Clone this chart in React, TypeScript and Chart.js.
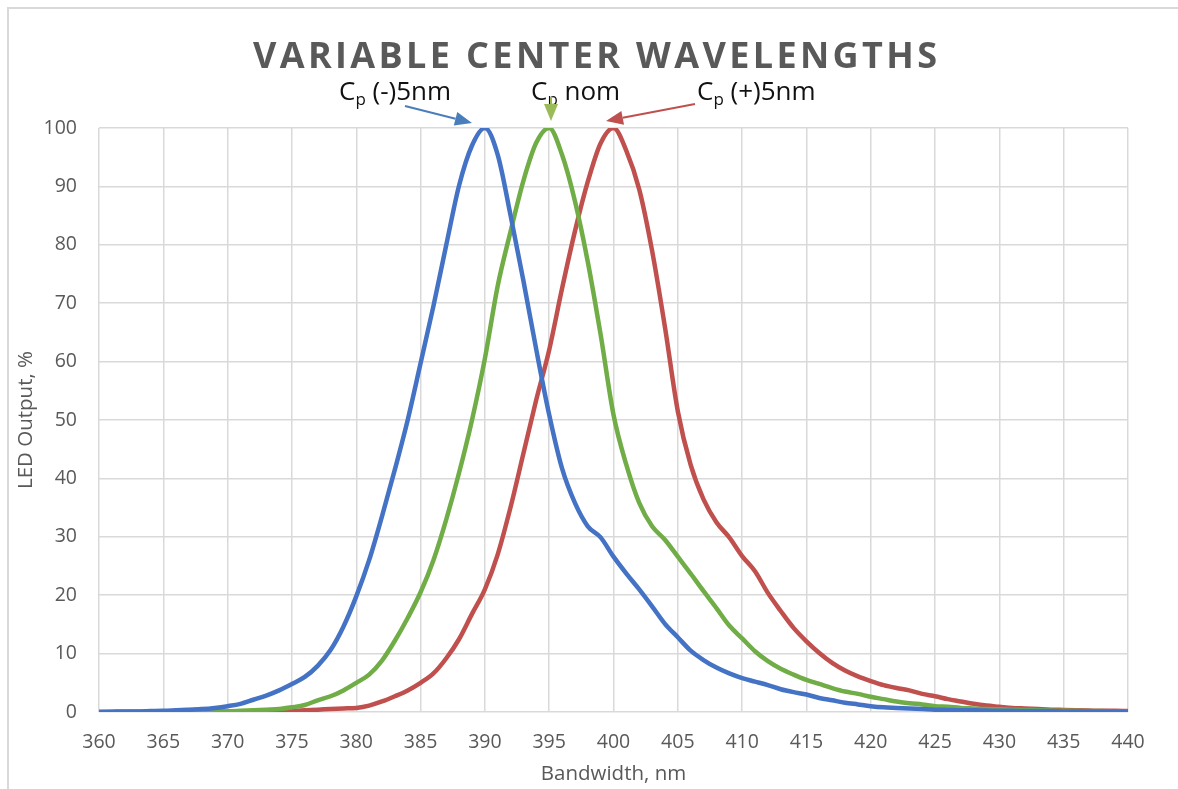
import { useEffect, useRef } from "react";
import { Chart, registerables } from "chart.js";

Chart.register(...registerables);

// wavelength, nm (1 nm steps)
const wavelengths = [
  360, 361, 362, 363, 364, 365, 366, 367, 368, 369,
  370, 371, 372, 373, 374, 375, 376, 377, 378, 379,
  380, 381, 382, 383, 384, 385, 386, 387, 388, 389,
  390, 391, 392, 393, 394, 395, 396, 397, 398, 399,
  400, 401, 402, 403, 404, 405, 406, 407, 408, 409,
  410, 411, 412, 413, 414, 415, 416, 417, 418, 419,
  420, 421, 422, 423, 424, 425, 426, 427, 428, 429,
  430, 431, 432, 433, 434, 435, 436, 437, 438, 439,
  440,
];

// Cp (-)5nm
const minusOutput = [
  0.0, 0.05, 0.1, 0.1, 0.15, 0.2, 0.3, 0.4, 0.5, 0.7,
  1.0, 1.4, 2.1, 2.8, 3.7, 4.8, 6.0, 7.9, 10.6, 14.6,
  19.8, 26.0, 33.5, 41.5, 50.0, 59.7, 69.5, 80.0, 90.2, 97.0,
  100, 95.4, 85.0, 73.8, 62.0, 50.9, 41.7, 35.8, 31.8, 29.9,
  26.6, 23.7, 21.0, 18.1, 15.1, 12.8, 10.5, 8.9, 7.6, 6.6,
  5.8, 5.2, 4.6, 3.9, 3.4, 3.0, 2.4, 2.0, 1.6, 1.3,
  1.0, 0.8, 0.7, 0.6, 0.5, 0.4, 0.35, 0.3, 0.3, 0.25,
  0.2, 0.2, 0.15, 0.15, 0.15, 0.1, 0.1, 0.1, 0.1, 0.1,
  0.1,
];

// Cp nom
const nomOutput = [
  0, 0, 0, 0.05, 0.05, 0.05, 0.05, 0.1, 0.1, 0.1,
  0.1, 0.2, 0.3, 0.4, 0.5, 0.8, 1.2, 2.0, 2.7, 3.7,
  5.0, 6.4, 8.8, 12.2, 16.1, 20.5, 26.0, 33.0, 41.0, 50.0,
  60.5, 73.0, 82.3, 91.0, 97.5, 100, 95.4, 87.5, 77.1, 64.6,
  50.9, 42.3, 35.8, 31.8, 29.5, 26.6, 23.7, 20.7, 17.8, 14.8,
  12.6, 10.4, 8.7, 7.4, 6.4, 5.5, 4.8, 4.1, 3.5, 3.1,
  2.6, 2.2, 1.8, 1.5, 1.3, 1.0, 0.9, 0.7, 0.6, 0.5,
  0.45, 0.4, 0.35, 0.3, 0.25, 0.2, 0.2, 0.15, 0.15, 0.1,
  0.1,
];

// Cp (+)5nm
const plusOutput = [
  0, 0, 0, 0, 0, 0, 0, 0.05, 0.05, 0.05,
  0.1, 0.1, 0.1, 0.15, 0.15, 0.2, 0.3, 0.4, 0.5, 0.6,
  0.7, 1.1, 1.8, 2.7, 3.7, 5.0, 6.6, 9.2, 12.5, 16.8,
  21.0, 27.0, 35.1, 44.3, 53.5, 62.0, 72.5, 82.3, 90.8, 97.4,
  100, 96.1, 89.5, 79.0, 65.9, 51.5, 42.3, 36.4, 32.5, 29.9,
  26.7, 24.1, 20.4, 17.3, 14.4, 12.1, 10.1, 8.4, 7.1, 6.1,
  5.3, 4.6, 4.1, 3.7, 3.1, 2.7, 2.2, 1.8, 1.4, 1.1,
  0.9, 0.7, 0.6, 0.5, 0.4, 0.35, 0.3, 0.25, 0.2, 0.2,
  0.15,
];

const seriesNames = ["Cp (-)5nm", "Cp nom", "Cp (+)5nm"];
const chartTitle = "VARIABLE CENTER WAVELENGTHS";

const FONT = "'Open Sans', sans-serif";
const GREY = "#595959";
const GRID = "#d9d9d9";

const toPoints = (ys: number[]) => wavelengths.map((x, i) => ({ x, y: ys[i] }));

// draws a "C" with a subscript "p" followed by the rest of the label
const drawLabel = (ctx: CanvasRenderingContext2D, x: number, y: number, rest: string) => {
  ctx.font = `26px ${FONT}`;
  ctx.fillText("C", x, y);
  let cx = x + ctx.measureText("C").width;
  ctx.font = `17px ${FONT}`;
  ctx.fillText("p", cx, y + 5);
  cx += ctx.measureText("p").width;
  ctx.font = `26px ${FONT}`;
  ctx.fillText(rest, cx, y);
};

const drawArrow = (
  ctx: CanvasRenderingContext2D,
  x0: number, y0: number, x1: number, y1: number, color: string
) => {
  const ang = Math.atan2(y1 - y0, x1 - x0);
  const head = 17;
  const half = 7;
  const bx = x1 - head * Math.cos(ang);
  const by = y1 - head * Math.sin(ang);
  ctx.strokeStyle = color;
  ctx.fillStyle = color;
  ctx.lineWidth = 2;
  ctx.beginPath();
  ctx.moveTo(x0, y0);
  ctx.lineTo(bx, by);
  ctx.stroke();
  ctx.beginPath();
  ctx.moveTo(x1, y1);
  ctx.lineTo(bx + half * Math.sin(ang), by - half * Math.cos(ang));
  ctx.lineTo(bx - half * Math.sin(ang), by + half * Math.cos(ang));
  ctx.closePath();
  ctx.fill();
};

const decorations = {
  id: "decorations",
  afterDraw(chart: Chart) {
    const ctx = chart.ctx;
    ctx.save();

    // chart area frame (top and left edges visible)
    ctx.strokeStyle = GRID;
    ctx.lineWidth = 2;
    ctx.beginPath();
    ctx.moveTo(8, 1400);
    ctx.lineTo(8, 8);
    ctx.lineTo(1400, 8);
    ctx.stroke();

    // title
    ctx.fillStyle = GREY;
    ctx.font = `bold 36px ${FONT}`;
    ctx.textBaseline = "alphabetic";
    ctx.textAlign = "left";
    const w = ctx.measureText(chartTitle).width;
    const spacing = (684 - w) / (chartTitle.length - 1);
    (ctx as any).letterSpacing = `${spacing}px`;
    ctx.fillText(chartTitle, 253, 68);
    (ctx as any).letterSpacing = "0px";

    // series labels
    ctx.fillStyle = "#111111";
    drawLabel(ctx, 339, 100, " (-)5nm");
    drawLabel(ctx, 531, 100, " nom");
    drawLabel(ctx, 697, 100, " (+)5nm");

    // arrows pointing at each peak
    drawArrow(ctx, 405, 106, 472, 123, "#4a7ebb");
    drawArrow(ctx, 551, 97, 551, 121, "#9bbb59");
    drawArrow(ctx, 695, 104, 606, 121, "#c0504d");

    ctx.restore();
  },
};

const App = () => {
  const chartRef = useRef<HTMLCanvasElement>(null);
  const chartInstance = useRef<Chart | null>(null);

  useEffect(() => {
    if (!chartRef.current) return;
    if (chartInstance.current) chartInstance.current.destroy();

    chartInstance.current = new Chart(chartRef.current, {
      type: "line",
      data: {
        datasets: [
          { label: seriesNames[0], data: toPoints(minusOutput), borderColor: "#4472c4" },
          { label: seriesNames[1], data: toPoints(nomOutput), borderColor: "#70ad47" },
          { label: seriesNames[2], data: toPoints(plusOutput), borderColor: "#c0504d" },
        ].map((d) => ({
          ...d,
          borderWidth: 4.5,
          pointRadius: 0,
          fill: false,
          cubicInterpolationMode: "monotone" as const,
        })),
      },
      options: {
        animation: false,
        responsive: true,
        maintainAspectRatio: false,
        layout: { padding: { top: 128, right: 50, left: 0, bottom: 0 } },
        plugins: {
          legend: { display: false },
          tooltip: { enabled: false },
        },
        scales: {
          x: {
            type: "linear",
            min: 360,
            max: 440,
            afterFit: (scale) => {
              scale.height = 77;
            },
            grid: { color: GRID, lineWidth: 1.5, drawTicks: false },
            border: { display: false },
            ticks: {
              stepSize: 5,
              padding: 19,
              color: GREY,
              font: { family: FONT, size: 19.5 },
            },
            title: {
              display: true,
              text: "Bandwidth, nm",
              color: GREY,
              font: { family: FONT, size: 20.5 },
              padding: { top: 0, bottom: 3 },
            },
          },
          y: {
            min: 0,
            max: 100,
            afterFit: (scale) => {
              scale.width = 99;
            },
            grid: { color: GRID, lineWidth: 1.5, drawTicks: false },
            border: { display: false },
            ticks: {
              stepSize: 10,
              padding: 22,
              color: GREY,
              font: { family: FONT, size: 19.5 },
            },
            title: {
              display: true,
              text: "LED Output, %",
              color: GREY,
              font: { family: FONT, size: 20.5 },
              padding: { top: 14, bottom: 14 },
            },
          },
        },
      },
      plugins: [decorations],
    });

    return () => {
      if (chartInstance.current) {
        chartInstance.current.destroy();
        chartInstance.current = null;
      }
    };
  }, []);

  return (
    <div style={{ position: "fixed", left: 0, top: 0, width: 1178, height: 789, background: "#fff" }}>
      <canvas ref={chartRef} />
    </div>
  );
};

export default App;
